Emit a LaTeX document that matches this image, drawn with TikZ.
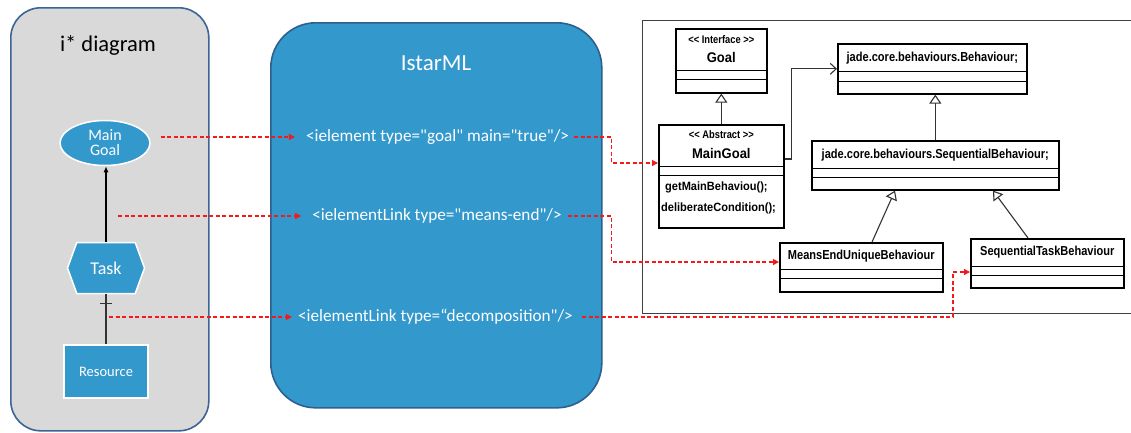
\documentclass[tikz,border=0pt]{standalone}
\usepackage{graphicx}
\usepackage{fontspec}
\setmainfont{Carlito}
\newfontfamily\xmlfont{Carlito}
\newfontfamily\umlfont{Liberation Sans}
\usetikzlibrary{arrows.meta,shapes.geometric,shapes.symbols,calc}
\definecolor{ibl}{RGB}{51,152,204}
\definecolor{pgray}{RGB}{217,217,217}
\definecolor{pedge}{RGB}{60,100,150}
\definecolor{medge}{RGB}{46,95,143}
\definecolor{rdc}{RGB}{245,25,25}
\newcommand\sqz[1]{\scalebox{0.85}[1]{#1}}
\begin{document}
\begin{tikzpicture}[x=1pt,y=-1pt,
  panelL/.style={draw=pedge,line width=1.6pt,fill=pgray,rounded corners=30pt,anchor=north west},
  panelM/.style={draw=medge,line width=1.6pt,fill=ibl,rounded corners=45pt,anchor=north west},
  ielem/.style={fill=ibl,draw=white,line width=1.5pt,text=white,align=center},
  xml/.style={text=white,font=\xmlfont\fontsize{17.2}{18}\selectfont,inner sep=1pt},
  rd/.style={draw=rdc,line width=1.3pt,dash pattern=on 4pt off 2.5pt,-{Triangle[length=6pt,width=6pt]}},
  uml/.style={draw=black,line width=1.6pt,fill=white,anchor=north west,inner sep=0pt},
  sep/.style={draw=black,line width=1pt},
  ut/.style={font=\umlfont\bfseries\fontsize{13}{14}\selectfont,inner sep=0pt},
  gen/.style={draw=black!80,line width=1.1pt,-{Triangle[open,length=9pt,width=12pt,fill=white]}},
]
\useasboundingbox (0,0) rectangle (1131,432);
\fill[white] (0,0) rectangle (1131,432);

% ---------- left panel ----------
\node[panelL,minimum width=198pt,minimum height=423pt] (lp) at (10,7) {};
\node (ltitle) at (108,45) {\fontsize{22.5}{23}\selectfont i* diagram};
\node[ielem,ellipse,minimum width=90pt,minimum height=45pt,inner sep=0pt,
      font=\fontsize{16}{16}\selectfont] (goal) at (105,143) {Main\\[-1pt]Goal};
\node[ielem,signal,signal to=west and east,signal pointer angle=140,
      minimum width=77pt,minimum height=51pt,font=\fontsize{18}{18}\selectfont] (task) at (106,268) {Task};
\node[ielem,rectangle,minimum width=84pt,minimum height=53pt,
      font=\fontsize{14.5}{15}\selectfont] (res) at (106,371.5) {Resource};
\draw[black,line width=1.1pt,-{Latex[length=6pt,width=5pt]}] (task.north) -- (task.north |- goal.south);
\draw[black!80,line width=1.1pt] (res.north) -- (res.north |- task.south);
\draw[black!80,line width=1.1pt] ($(res.north |- task.south)+(-6,9)$) -- ++(12,0);

% ---------- middle panel ----------
\node[panelM,minimum width=331pt,minimum height=385pt] (mp) at (270,22) {};
\node[text=white] (mtitle) at (436,63) {\fontsize{23}{24}\selectfont IstarML};
\node[xml] (x1) at (437.5,137) {<ielement type="goal" main="true"/>};
\node[xml] (x2) at (437,216) {<ielementLink type="means-end"/>};
\node[xml] (x3) at (435.5,317) {<ielementLink type=“decomposition"/>};

% ---------- right panel ----------
\draw[black!75,line width=1pt] (1131,20) -- (642,20) -- (642,313) -- (1131,313);

\node[uml,minimum width=91pt,minimum height=64pt] (gi) at (675,28) {};
\draw[sep] ($(gi.north west)+(0,42)$) -- ($(gi.north east)+(0,42)$);
\draw[sep] ($(gi.north west)+(0,51)$) -- ($(gi.north east)+(0,51)$);
\node[ut,font=\umlfont\bfseries\fontsize{11}{12}\selectfont] (gis) at ($(gi.north)+(0,12)$) {\sqz{<{}< Interface >{}>}};
\node[ut,font=\umlfont\bfseries\fontsize{14}{15}\selectfont] (gin) at ($(gi.north)+(0,29)$) {\scalebox{0.93}[1]{Goal}};

\node[uml,minimum width=125pt,minimum height=103pt] (mg) at (658,124) {};
\draw[sep] ($(mg.north west)+(0,42)$) -- ($(mg.north east)+(0,42)$);
\draw[sep] ($(mg.north west)+(0,51)$) -- ($(mg.north east)+(0,51)$);
\node[ut,font=\umlfont\bfseries\fontsize{11}{12}\selectfont] (mgs) at ($(mg.north)+(0,11)$) {\sqz{<{}< Abstract >{}>}};
\node[ut,font=\umlfont\bfseries\fontsize{14}{15}\selectfont] (mgn) at ($(mg.north)+(0,29)$) {\scalebox{0.93}[1]{MainGoal}};
\node[ut,anchor=west,font=\umlfont\bfseries\fontsize{12}{13}\selectfont] (m1) at ($(mg.north west)+(7,63)$) {\scalebox{0.92}[1]{getMainBehaviou();}};
\node[ut,anchor=west,font=\umlfont\bfseries\fontsize{12}{13}\selectfont] (m2) at ($(mg.north west)+(3,84)$) {\scalebox{0.92}[1]{deliberateCondition();}};

\node[uml,minimum width=189pt,minimum height=50pt] (beh) at (837,43) {};
\draw[sep] ($(beh.north west)+(0,28)$) -- ($(beh.north east)+(0,28)$);
\draw[sep] ($(beh.north west)+(0,38)$) -- ($(beh.north east)+(0,38)$);
\node[ut] (behn) at ($(beh.north)+(0,15)$) {\sqz{jade.core.behaviours.Behaviour;}};

\node[uml,minimum width=247pt,minimum height=49pt] (sb) at (811,140) {};
\draw[sep] ($(sb.north west)+(0,28)$) -- ($(sb.north east)+(0,28)$);
\draw[sep] ($(sb.north west)+(0,37)$) -- ($(sb.north east)+(0,37)$);
\node[ut] (sbn) at ($(sb.north)+(0,15)$) {\sqz{jade.core.behaviours.SequentialBehaviour;}};

\node[uml,minimum width=163pt,minimum height=49pt] (meu) at (779,242) {};
\draw[sep] ($(meu.north west)+(0,27)$) -- ($(meu.north east)+(0,27)$);
\draw[sep] ($(meu.north west)+(0,36)$) -- ($(meu.north east)+(0,36)$);
\node[ut] (meun) at ($(meu.north)+(0,14)$) {\sqz{MeansEndUniqueBehaviour}};

\node[uml,minimum width=153pt,minimum height=49pt] (stb) at (970,238) {};
\draw[sep] ($(stb.north west)+(0,28)$) -- ($(stb.north east)+(0,28)$);
\draw[sep] ($(stb.north west)+(0,37)$) -- ($(stb.north east)+(0,37)$);
\node[ut] (stbn) at ($(stb.north)+(0,14)$) {\sqz{SequentialTaskBehaviour}};

% UML links
\draw[gen] (mg.north) -- (mg.north |- gi.south);
\draw[gen] (sb.north) -- (sb.north |- beh.south);
\draw[gen] ($(meu.north west)+(93,0)$) -- ($(sb.south west)+(84,0)$);
\draw[gen] ($(stb.north west)+(58,0)$) -- ($(sb.south west)+(182,0)$);
\draw[black!80,line width=1.1pt,-{Straight Barb[length=6pt,width=11pt]}]
  ($(mg.north east)+(0,35)$) -- ++(7,0) |- (beh.west);

% ---------- red dashed connectors ----------
\coordinate (mgin) at ($(mg.north west)+(0,39)$);
\coordinate (meuin) at ($(meu.north west)+(0,20)$);
\coordinate (stbin) at ($(stb.north west)+(0,34)$);
\draw[rd] ($(goal.east |- x1.west)+(10,0)$) -- ($(x1.west)+(-10,0)$);
\draw[rd] ($(task.north |- x2.west)+(12,0)$) -- ($(x2.west)+(-10,0)$);
\draw[rd] ($(res.north |- x3.west)+(3,0)$) -- ($(x3.west)+(-5,0)$);
\draw[rd] ($(x1.east)+(4,0)$) -- ($(x1.east -| mp.east)+(9,0)$) |- (mgin);
\draw[rd] ($(x2.east)+(5,0)$) -- ($(x2.east -| mp.east)+(9,0)$) |- (meuin);
\draw[rd] ($(x3.east)+(8,0)$) -| ($(stbin)+(-17,0)$) -- (stbin);
\end{tikzpicture}
\end{document}
